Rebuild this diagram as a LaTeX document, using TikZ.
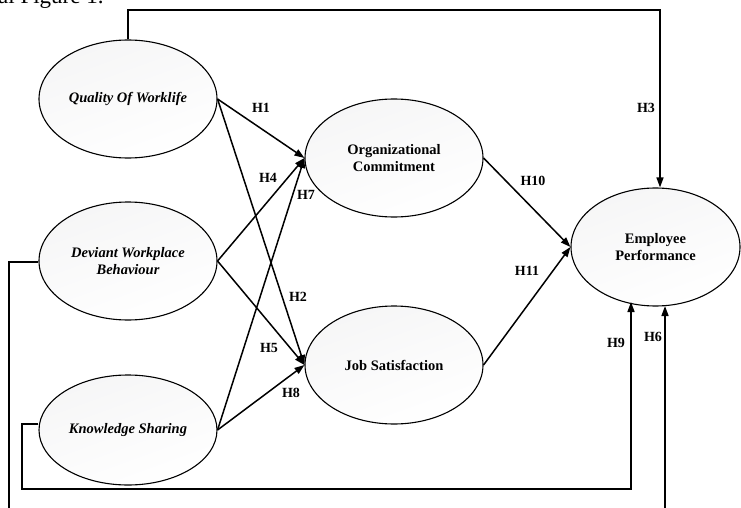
\documentclass[tikz,border=0pt]{standalone}
\usepackage{fontspec}
\setmainfont{Liberation Serif}
\usetikzlibrary{shapes.geometric,arrows.meta,calc}
\begin{document}
\begin{tikzpicture}[x=1pt,y=-1pt,
  construct/.style={ellipse,draw,line width=1.1pt,inner sep=0pt,
    minimum width=178pt,minimum height=118pt,align=center,
    left color=blue!3!gray!7,right color=white,shading angle=20,
    font=\bfseries\fontsize{14.5}{17}\selectfont},
  itl/.style={font=\bfseries\itshape\fontsize{14.5}{17}\selectfont},
  link/.style={line width=1.5pt,-{Triangle[length=10pt,width=7pt]}},
  hyp/.style={font=\bfseries\fontsize{14}{16}\selectfont,inner sep=0pt}]
\clip (0,0) rectangle (741,508);
\fill[white] (0,0) rectangle (741,508);
\node[anchor=base west,inner sep=0pt,font=\fontsize{23}{26}\selectfont] (title) at (-2,4) {al Figure 1.};

\node[construct,itl] (qw) at (128,99) {Quality Of Worklife};
\node[construct,itl] (dwb) at (128,261) {Deviant Workplace\\Behaviour};
\node[construct,itl,minimum height=110pt] (ks) at (128,430) {Knowledge Sharing};
\node[construct] (oc) at (394,158) {Organizational\\Commitment};
\node[construct] (js) at (394,365) {Job Satisfaction};
\node[construct,minimum width=169pt] (ep) at (655.5,247) {Employee\\Performance};

% paths to the mediators
\draw[link] (qw.east) -- (oc.west);
\draw[link] (qw.east) -- (js.west);
\draw[link] (dwb.east) -- (oc.west);
\draw[link] (dwb.east) -- (js.west);
\draw[link] (ks.east) -- (oc.west);
\draw[link] (ks.east) -- (js.west);
\draw[link] (oc.east) -- (ep.west);
\draw[link] (js.east) -- (ep.west);

% long routes to employee performance
\coordinate (t1) at (128,10);
\coordinate (t2) at (660,10);
\draw[link] (qw.north) -- (t1) -- (t2) -- (t2 |- ep.north);

\coordinate (k1) at (22,424);
\coordinate (k2) at (22,489);
\coordinate (k3) at (631,489);
\coordinate (k4) at (631,302);
\draw[link] (k1 -| ks.west) -- (k1) -- (k2) -- (k3) -- (k4);

\coordinate (d1) at (9,262);
\coordinate (d2) at (9,520);
\coordinate (d3) at (665,520);
\coordinate (d4) at (665,306);
\draw[link] (d1 -| dwb.west) -- (d1) -- (d2) -- (d3) -- (d4);

% hypothesis labels
\node[hyp] (h1) at (261,108) {H1};
\node[hyp] (h4) at (268,178) {H4};
\node[hyp] (h7) at (306,195) {H7};
\node[hyp] (h2) at (298,297) {H2};
\node[hyp] (h5) at (269,348) {H5};
\node[hyp] (h8) at (291,393) {H8};
\node[hyp] (h10) at (533,181) {H10};
\node[hyp] (h11) at (527,271) {H11};
\node[hyp] (h3) at (646,108) {H3};
\node[hyp] (h9) at (616,343) {H9};
\node[hyp] (h6) at (653,337) {H6};
\end{tikzpicture}
\end{document}
